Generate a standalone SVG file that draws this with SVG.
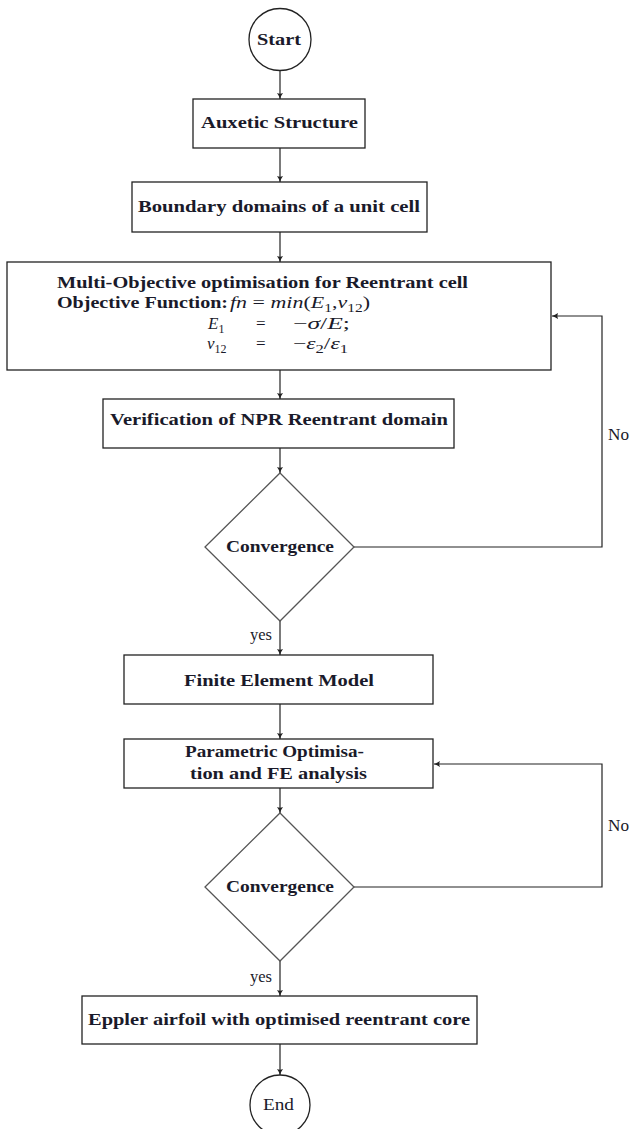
<svg xmlns="http://www.w3.org/2000/svg" width="630" height="1129" viewBox="0 0 630 1129">
<style>
.box{fill:#fff;stroke:#222;stroke-width:1.3}
.dia{fill:#fff;stroke:#555;stroke-width:1.3}
.edge{fill:none;stroke:#222;stroke-width:1.2}
.t{font-family:"Liberation Serif","Times New Roman",serif;font-size:17px;font-weight:bold;fill:#1a1a2a}
.n{font-family:"Liberation Serif","Times New Roman",serif;font-size:16px;fill:#1a1a2a}
.m{font-family:"Liberation Serif","Times New Roman",serif;font-size:17px;font-style:italic;fill:#1a1a2a}
.r{font-style:normal}
.s{font-size:12px}
</style>
<defs>
<marker id="arr" markerWidth="8" markerHeight="8" refX="7" refY="4" orient="auto" markerUnits="userSpaceOnUse">
<path d="M1,1 Q4,3.2 7,4 Q4,4.8 1,7 Q2.5,4 1,1 Z" fill="#222"/>
</marker>
</defs>
<g id="connectors">
<line class="edge" x1="280" y1="71" x2="280" y2="99" marker-end="url(#arr)"/>
<line class="edge" x1="280" y1="148" x2="280" y2="182" marker-end="url(#arr)"/>
<line class="edge" x1="280" y1="232" x2="280" y2="262" marker-end="url(#arr)"/>
<line class="edge" x1="280" y1="370" x2="280" y2="399" marker-end="url(#arr)"/>
<line class="edge" x1="280" y1="448" x2="280" y2="473" marker-end="url(#arr)"/>
<line class="edge" x1="280" y1="621" x2="280" y2="655" marker-end="url(#arr)"/>
<line class="edge" x1="280" y1="704" x2="280" y2="739" marker-end="url(#arr)"/>
<line class="edge" x1="280" y1="788" x2="280" y2="813" marker-end="url(#arr)"/>
<line class="edge" x1="280" y1="961" x2="280" y2="996" marker-end="url(#arr)"/>
<line class="edge" x1="280" y1="1044" x2="280" y2="1075" marker-end="url(#arr)"/>
<polyline class="edge" points="354,547 602,547 602,316 552,316" marker-end="url(#arr)"/>
<polyline class="edge" points="354,887 602,887 602,764 434,764" marker-end="url(#arr)"/>
<text class="n" x="250" y="640" textLength="22" lengthAdjust="spacingAndGlyphs">yes</text>
<text class="n" x="250" y="982" textLength="22" lengthAdjust="spacingAndGlyphs">yes</text>
<text class="n" x="608" y="440" textLength="21" lengthAdjust="spacingAndGlyphs">No</text>
<text class="n" x="608" y="831" textLength="21" lengthAdjust="spacingAndGlyphs">No</text>
</g>
<g id="start">
<circle class="box" cx="280" cy="39.5" r="31"/>
<text class="t" x="257" y="45" textLength="44" lengthAdjust="spacingAndGlyphs">Start</text>
</g>
<g id="auxetic">
<rect class="box" x="193" y="99" width="172" height="49"/>
<text class="t" x="201" y="128" textLength="157" lengthAdjust="spacingAndGlyphs">Auxetic Structure</text>
</g>
<g id="boundary">
<rect class="box" x="132" y="182" width="295" height="50"/>
<text class="t" x="138" y="212" textLength="282" lengthAdjust="spacingAndGlyphs">Boundary domains of a unit cell</text>
</g>
<g id="multi">
<rect class="box" x="7" y="262" width="544" height="108"/>
<text class="t" x="57" y="288" textLength="411" lengthAdjust="spacingAndGlyphs">Multi-Objective optimisation for Reentrant cell</text>
<text class="t" x="57" y="308" textLength="171" lengthAdjust="spacingAndGlyphs">Objective Function:</text>
<text class="m" x="230" y="308" textLength="140" lengthAdjust="spacingAndGlyphs">fn <tspan class="r">= </tspan>min<tspan class="r">(</tspan>E<tspan class="s r" dy="4">1</tspan><tspan class="r" dy="-4">,</tspan>ν<tspan class="s r" dy="4">12</tspan><tspan class="r" dy="-4">)</tspan></text>
<text class="m" x="208" y="329">E<tspan class="s r" dy="4">1</tspan></text>
<text class="m r" x="256" y="329">=</text>
<text class="m" x="293" y="329" textLength="57" lengthAdjust="spacingAndGlyphs"><tspan class="r">−</tspan>σ<tspan class="r">/</tspan>E<tspan class="r">;</tspan></text>
<text class="m" x="207" y="349">ν<tspan class="s r" dy="4">12</tspan></text>
<text class="m r" x="256" y="349">=</text>
<text class="m" x="293" y="349" textLength="55" lengthAdjust="spacingAndGlyphs"><tspan class="r">−</tspan>ε<tspan class="s r" dy="4">2</tspan><tspan class="r" dy="-4">/</tspan>ε<tspan class="s r" dy="4">1</tspan></text>
</g>
<g id="verification">
<rect class="box" x="103" y="399" width="351" height="49"/>
<text class="t" x="110" y="425" textLength="338" lengthAdjust="spacingAndGlyphs">Verification of NPR Reentrant domain</text>
</g>
<g id="convergence1">
<polygon class="dia" points="280,473 354,547 280,621 205,547"/>
<text class="t" x="226" y="552" textLength="108" lengthAdjust="spacingAndGlyphs">Convergence</text>
</g>
<g id="fem">
<rect class="box" x="124" y="655" width="309" height="49"/>
<text class="t" x="184" y="686" textLength="190" lengthAdjust="spacingAndGlyphs">Finite Element Model</text>
</g>
<g id="parametric">
<rect class="box" x="124" y="739" width="309" height="49"/>
<text class="t" x="185" y="757" textLength="179" lengthAdjust="spacingAndGlyphs">Parametric Optimisa-</text>
<text class="t" x="190" y="779" textLength="177" lengthAdjust="spacingAndGlyphs">tion and FE analysis</text>
</g>
<g id="convergence2">
<polygon class="dia" points="280,813 354,887 280,961 205,887"/>
<text class="t" x="226" y="892" textLength="108" lengthAdjust="spacingAndGlyphs">Convergence</text>
</g>
<g id="eppler">
<rect class="box" x="82" y="996" width="395" height="48"/>
<text class="t" x="88" y="1025" textLength="382" lengthAdjust="spacingAndGlyphs">Eppler airfoil with optimised reentrant core</text>
</g>
<g id="end">
<circle class="box" cx="280" cy="1105" r="30"/>
<text class="n" x="263" y="1110" textLength="31" lengthAdjust="spacingAndGlyphs">End</text>
</g>
</svg>
